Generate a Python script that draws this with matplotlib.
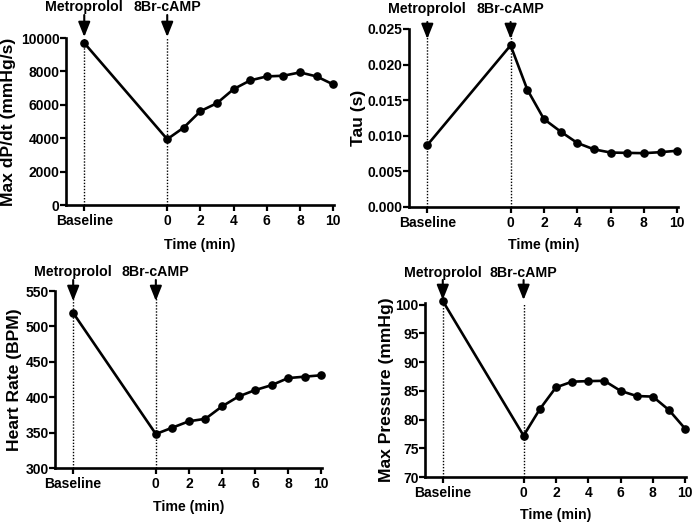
import matplotlib
matplotlib.use("Agg")
import matplotlib.pyplot as plt
import matplotlib.transforms as mtransforms
from matplotlib.ticker import FormatStrFormatter

plt.rcParams['font.family'] = ['Liberation Sans', 'DejaVu Sans']
plt.rcParams['font.weight'] = 'bold'

# ---- data ----
times = [-5, 0, 1, 2, 3, 4, 5, 6, 7, 8, 9, 10]   # -5 = "Baseline"
xtick_pos = [-5, 0, 2, 4, 6, 8, 10]
xtick_labels = ["Baseline", "0", "2", "4", "6", "8", "10"]

dpdt = [9700, 3940, 4640, 5620, 6100, 6940, 7460, 7700, 7740, 7940, 7700, 7220]
tau = [0.0087, 0.0227, 0.0165, 0.01235, 0.0106, 0.0090, 0.0081, 0.00765, 0.0076, 0.00756, 0.0077, 0.0079]
heart_rate = [519, 348, 357, 366, 369.5, 387, 401, 410, 417, 427, 429, 431]
max_pressure = [100.65, 77.2, 81.8, 85.6, 86.6, 86.7, 86.75, 85.0, 84.1, 84.0, 81.65, 78.4]

drug_labels = ["Metroprolol", "8Br-cAMP"]
drug_times = [-5, 0]

W, H = 693, 523
fig = plt.figure(figsize=(W / 100, H / 100), dpi=100)


def px_rect(left, right, top, bottom):
    return [left / W, 1 - bottom / H, (right - left) / W, (bottom - top) / H]


panels = [
    dict(box=(66, 334, 38, 205), y=dpdt, ylim=(0, 10000), yticks=[0, 2000, 4000, 6000, 8000, 10000],
         ylabel="Max dP/dt (mmHg/s)", fmt=None, text_y=7, arrow_top=15, arrow_tip=37, ylab_x=8, xlab_y=245),
    dict(box=(409, 678, 29, 207), y=tau, ylim=(0, 0.025), yticks=[0, 0.005, 0.010, 0.015, 0.020, 0.025],
         ylabel="Tau (s)", fmt="%.3f", text_y=9, arrow_top=22, arrow_tip=39, ylab_x=359, xlab_y=245),
    dict(box=(55, 322, 291, 468), y=heart_rate, ylim=(300, 550), yticks=[300, 350, 400, 450, 500, 550],
         ylabel="Heart Rate (BPM)", fmt=None, text_y=272, arrow_top=280, arrow_tip=301, ylab_x=14, xlab_y=507),
    dict(box=(425, 686, 303, 477), y=max_pressure, ylim=(70, 100.3), yticks=[70, 75, 80, 85, 90, 95, 100],
         ylabel="Max Pressure (mmHg)", fmt=None, text_y=273, arrow_top=280, arrow_tip=300, ylab_x=386, xlab_y=515),
]

for p in panels:
    l, r, t, b = p["box"]
    ax = fig.add_axes(px_rect(l, r, t, b))
    ax.set_xlim(-6.1, 10.05)
    ax.set_ylim(*p["ylim"])
    for x in drug_times:
        ax.plot([x, x], p["ylim"], linestyle=(0, (1, 1.2)), color="black", lw=1.0, zorder=1)
    ax.plot(times, p["y"], color="black", lw=1.9, marker="o", ms=5.2, clip_on=False, zorder=3)

    for s in ["top", "right"]:
        ax.spines[s].set_visible(False)
    for s in ["left", "bottom"]:
        ax.spines[s].set_linewidth(1.9)
    ax.set_xticks(xtick_pos)
    ax.set_xticklabels(xtick_labels)
    ax.set_yticks(p["yticks"])
    if p["fmt"]:
        ax.yaxis.set_major_formatter(FormatStrFormatter(p["fmt"]))
    ax.tick_params(axis="both", direction="out", length=4, width=1.6, labelsize=10)
    ax.tick_params(axis="y", pad=0.5)
    ax.tick_params(axis="x", pad=2.5)
    for lab in ax.get_xticklabels() + ax.get_yticklabels():
        lab.set_fontweight("bold")
    ax.set_xlabel("Time (min)", fontsize=10.2, fontweight="bold")
    ax.set_ylabel(p["ylabel"], fontsize=12.6, fontweight="bold")
    ax.yaxis.label.set_va("center")
    ax.yaxis.set_label_coords((p["ylab_x"] - l) / (r - l), 0.5)
    ax.xaxis.label.set_va("center")
    ax.xaxis.set_label_coords(0.5, (b - p["xlab_y"]) / (b - t))

    trans = mtransforms.blended_transform_factory(ax.transData, fig.transFigure)
    for x, lab in zip(drug_times, drug_labels):
        ax.text(x, 1 - p["text_y"] / H, lab, transform=trans, ha="center", va="center",
                fontsize=10.2, fontweight="bold")
        ax.annotate("", xy=(x, 1 - p["arrow_tip"] / H), xycoords=trans,
                    xytext=(x, 1 - p["arrow_top"] / H), textcoords=trans,
                    arrowprops=dict(arrowstyle="-|>,head_length=0.45,head_width=0.18",
                                    mutation_scale=20, color="black", lw=1.5,
                                    shrinkA=0, shrinkB=0),
                    annotation_clip=False)

fig.savefig("out.png", dpi=100)
